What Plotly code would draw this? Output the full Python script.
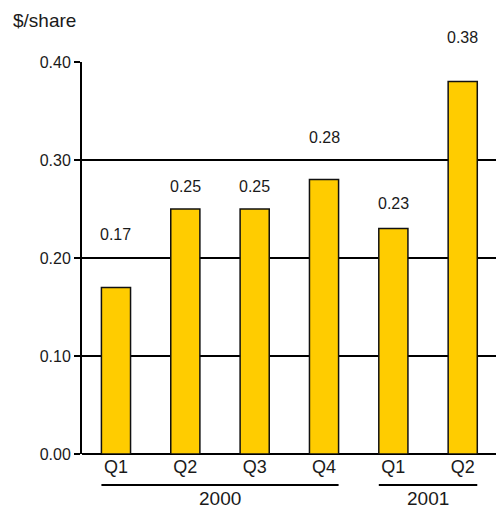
import plotly.graph_objects as go

quarters = ["Q1", "Q2", "Q3", "Q4", "Q1", "Q2"]
years = ["2000", "2001"]
year_groups = [[0, 1, 2, 3], [4, 5]]
eps = [0.17, 0.25, 0.25, 0.28, 0.23, 0.38]
value_labels = ["0.17", "0.25", "0.25", "0.28", "0.23", "0.38"]
y_ticks = [0.0, 0.1, 0.2, 0.3, 0.4]
y_ticktext = ["0.00", "0.10", "0.20", "0.30", "0.40"]

# styling
label_shift_px = [53, 23, 23, 42, 25, 44]
bar_width = 0.42
FONT = "Liberation Sans, Arial, sans-serif"
TXT = "#1a1a1a"

x = list(range(len(quarters)))

fig = go.Figure()
fig.add_trace(go.Bar(
    x=x, y=eps, width=bar_width,
    marker=dict(color="#FFCC00", line=dict(color="#111111", width=1.5)),
    hoverinfo="skip",
))

for xi, v, t, s in zip(x, eps, value_labels, label_shift_px):
    fig.add_annotation(x=xi, y=v, text=t, showarrow=False, yshift=s,
                       yanchor="middle", font=dict(size=16, color=TXT, family=FONT))

for yr, grp in zip(years, year_groups):
    x0 = grp[0] - bar_width / 2
    x1 = grp[-1] + bar_width / 2
    fig.add_shape(type="line", xref="x", yref="paper", x0=x0, x1=x1,
                  y0=-0.079, y1=-0.079, line=dict(color="black", width=2))
    fig.add_annotation(xref="x", yref="paper", x=(grp[0] + grp[-1]) / 2, y=-0.146,
                       text=yr, showarrow=False, yanchor="bottom",
                       font=dict(size=19, color=TXT, family=FONT))

fig.add_annotation(xref="paper", yref="paper", x=-0.172, y=1.107, text="$/share",
                   showarrow=False, xanchor="left", yanchor="middle",
                   font=dict(size=19, color=TXT, family=FONT))

fig.update_layout(
    width=496, height=512,
    margin=dict(l=82, r=0, t=62, b=58),
    paper_bgcolor="white", plot_bgcolor="white",
    showlegend=False,
    font=dict(family=FONT, color=TXT),
    xaxis=dict(range=[-0.49, 5.48], tickvals=x, ticktext=quarters,
               showgrid=False, zeroline=False, showline=False,
               tickfont=dict(size=18, color=TXT, family=FONT), ticks=""),
    yaxis=dict(range=[0, 0.4], tickvals=y_ticks, ticktext=y_ticktext,
               showgrid=True, gridcolor="black", gridwidth=2,
               zeroline=True, zerolinecolor="black", zerolinewidth=2,
               showline=True, linecolor="black", linewidth=2,
               ticks="outside", ticklen=6, tickwidth=2, tickcolor="black",
               tickfont=dict(size=16, color=TXT, family=FONT)),
)

fig.write_html("out.html")
